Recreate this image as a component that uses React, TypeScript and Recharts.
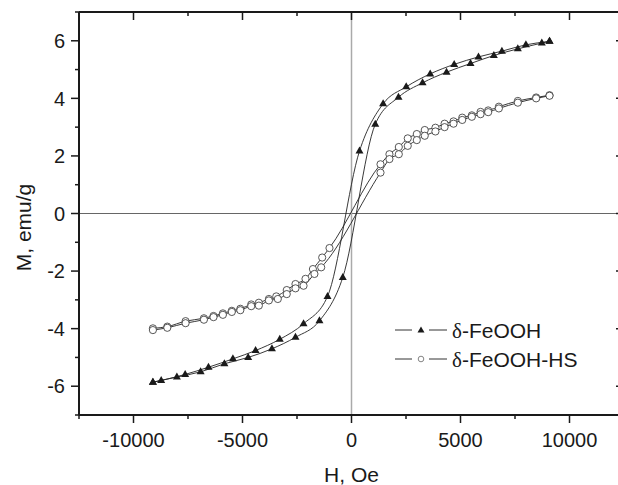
import React from 'react';
import { LineChart, Line, XAxis, YAxis, ReferenceLine, Legend, Label } from 'recharts';

// delta-FeOOH, branch coming down from +H (upper) and going back up (lower)
const feDownH = [-9110, -8730, -7630, -6560, -5440, -4400, -3290, -2200, -1100, 367, 1450, 2510, 3610, 4710, 5825, 6900, 8000, 9083];
const feDownM = [-5.86, -5.80, -5.59, -5.34, -5.05, -4.76, -4.37, -3.83, -2.88, 2.17, 3.81, 4.40, 4.85, 5.18, 5.44, 5.64, 5.86, 5.98];
const feUpH = [-9110, -8010, -6920, -5830, -4740, -3650, -2570, -1470, -400, 1090, 2155, 3260, 4360, 5460, 6530, 7630, 8730, 9083];
const feUpM = [-5.86, -5.68, -5.50, -5.22, -5.00, -4.70, -4.30, -3.73, -2.22, 3.10, 4.04, 4.54, 4.91, 5.21, 5.49, 5.72, 5.92, 5.98];

// delta-FeOOH-HS
const hsDownH = [-9110, -8450, -7610, -6770, -6330, -5900, -5490, -5100, -4600, -4250, -3790, -3450, -2970, -2570, -2110, -1770, -1345, -1010, 1330, 1740, 2170, 2580, 2995, 3360, 3850, 4270, 4680, 5080, 5520, 5920, 6270, 6760, 7630, 8470, 9083];
const hsDownM = [-3.99, -3.93, -3.74, -3.64, -3.56, -3.47, -3.38, -3.31, -3.16, -3.10, -2.97, -2.88, -2.66, -2.45, -2.27, -1.93, -1.53, -1.20, 1.71, 2.06, 2.31, 2.61, 2.76, 2.90, 2.98, 3.12, 3.20, 3.33, 3.41, 3.53, 3.58, 3.71, 3.91, 4.03, 4.11];
const hsUpH = [-9110, -8450, -7610, -6770, -6330, -5900, -5490, -5100, -4600, -4250, -3790, -3380, -2970, -2570, -2200, -1700, -1390, 1330, 1740, 2170, 2580, 2995, 3360, 3850, 4270, 4680, 5080, 5520, 5920, 6270, 6760, 7630, 8470, 9083];
const hsUpM = [-4.05, -3.97, -3.81, -3.69, -3.60, -3.52, -3.42, -3.36, -3.22, -3.20, -3.02, -2.97, -2.80, -2.60, -2.51, -2.10, -1.87, 1.42, 1.89, 2.06, 2.35, 2.55, 2.70, 2.85, 3.00, 3.12, 3.25, 3.36, 3.45, 3.52, 3.65, 3.85, 4.00, 4.09];

const hTicks = [-12500, -10000, -7500, -5000, -2500, 0, 2500, 5000, 7500, 10000, 12500];
const mTicks = [-7, -6, -5, -4, -3, -2, -1, 0, 1, 2, 3, 4, 5, 6, 7];
const hDomain = [-12500, 12500];
const mDomain = [-7, 7];

const seriesNames = ['δ-FeOOH', 'δ-FeOOH-HS'];

const zip = (hs: number[], ms: number[]) => hs.map((h, i) => ({ h, m: ms[i] }));

const FONT = '"Liberation Sans", Arial, sans-serif';
const INK = '#1a1a1a';

// chart box
const W = 640;
const H = 485;
const MARGIN = { top: 12, right: 16, left: 0, bottom: 30 };
const Y_AXIS_W = 79;
const X_AXIS_H = 40;
const plotW = W - MARGIN.left - MARGIN.right - Y_AXIS_W;
const plotH = H - MARGIN.top - MARGIN.bottom - X_AXIS_H;
// data units per pixel, used for the inward ticks on the top and right frame
const hPerPx = (hDomain[1] - hDomain[0]) / plotW;
const mPerPx = (mDomain[1] - mDomain[0]) / plotH;

const isMajorH = (v: number) => v % 5000 === 0;
const isMajorM = (v: number) => v % 2 === 0;

const Triangle = (props: any) => {
  const { cx, cy } = props;
  if (cx == null || cy == null) return null;
  return <polygon key={props.key ?? `${cx}-${cy}`} points={`${cx},${cy - 4.5} ${cx - 4},${cy + 2.5} ${cx + 4},${cy + 2.5}`} fill={INK} />;
};

const Ring = (props: any) => {
  const { cx, cy } = props;
  if (cx == null || cy == null) return null;
  return <circle key={props.key ?? `${cx}-${cy}`} cx={cx} cy={cy} r={3.6} fill="#fff" stroke="#444" strokeWidth={0.9} />;
};

// major/minor ticks for the labelled left and bottom axes
const makeTick = (side: string) => (props: any) => {
  const { x, y, payload } = props;
  const v = payload.value;
  const major = side === 'bottom' ? isMajorH(v) : isMajorM(v);
  const len = major ? 8 : 4;
  const label = v < 0 ? `-${Math.abs(v)}` : `${v}`;
  if (side === 'left') {
    return (
      <g>
        <line x1={x} x2={x - len} y1={y} y2={y} stroke={INK} strokeWidth={1.5} />
        {major && <text x={x - 14} y={y} dy="0.36em" textAnchor="end" fontSize={20} fontFamily={FONT} fill={INK}>{label}</text>}
      </g>
    );
  }
  return (
    <g>
      <line x1={x} x2={x} y1={y} y2={y + len} stroke={INK} strokeWidth={1.5} />
      {major && <text x={x} y={y + 32} textAnchor="middle" fontSize={20} fontFamily={FONT} fill={INK}>{label}</text>}
    </g>
  );
};

const renderLegend = () => (
  <svg width={230} height={60}>
    {seriesNames.map((name, i) => {
      const cy = 15 + i * 29;
      const dash = name.slice(1);
      return (
        <g key={name}>
          <line x1={5} x2={22} y1={cy} y2={cy} stroke="#333" strokeWidth={1} />
          <line x1={39} x2={57} y1={cy} y2={cy} stroke="#333" strokeWidth={1} />
          {i === 0 ? (
            <polygon points={`31,${cy - 3.5} 27.5,${cy + 2.5} 34.5,${cy + 2.5}`} fill={INK} />
          ) : (
            <circle cx={31} cy={cy} r={2.8} fill="#fff" stroke="#666" strokeWidth={0.8} />
          )}
          <text x={62} y={cy + 7.5} fontSize={21} fontFamily={FONT} fill={INK}>
            <tspan fontFamily='"Liberation Serif", "Times New Roman", serif'>δ</tspan>
            {dash}
          </text>
        </g>
      );
    })}
  </svg>
);

export default function App() {
  const topTicks = hTicks.filter((t) => t > hDomain[0] && t < hDomain[1]);
  const rightTicks = mTicks.filter((t) => t > mDomain[0] && t < mDomain[1]);
  return (
    <div style={{ position: 'absolute', left: 0, top: 0, width: 618, height: 485, overflow: 'hidden', background: '#fff' }}>
      <LineChart width={W} height={H} margin={MARGIN}>
        <XAxis
          type="number"
          dataKey="h"
          domain={hDomain}
          ticks={hTicks}
          interval={0}
          allowDataOverflow
          height={X_AXIS_H}
          tickSize={0}
          tickMargin={0}
          tickLine={false}
          axisLine={{ stroke: INK, strokeWidth: 2 }}
          tick={makeTick('bottom')}
        >
          <Label
            position="bottom"
            content={(p: any) => {
              const vb = p.viewBox || { x: 79, y: 415, width: 545, height: 40 };
              return (
                <text x={vb.x + vb.width / 2} y={vb.y + 67} textAnchor="middle" fontSize={21} fontFamily={FONT} fill={INK}>
                  H, Oe
                </text>
              );
            }}
          />
        </XAxis>
        <YAxis
          type="number"
          domain={mDomain}
          ticks={mTicks}
          interval={0}
          allowDataOverflow
          width={Y_AXIS_W}
          tickSize={0}
          tickMargin={0}
          tickLine={false}
          axisLine={{ stroke: INK, strokeWidth: 2 }}
          tick={makeTick('left')}
        >
          <Label
            position="left"
            content={(p: any) => {
              const vb = p.viewBox || { x: 0, y: 12, width: 79, height: 403 };
              const cx = vb.x + 31;
              const cy = vb.y + vb.height / 2 + 14;
              return (
                <text x={cx} y={cy} transform={`rotate(-90 ${cx} ${cy})`} textAnchor="middle" fontSize={21} fontFamily={FONT} fill={INK}>
                  M, emu/g
                </text>
              );
            }}
          />
        </YAxis>

        <ReferenceLine y={0} stroke="#666" strokeWidth={1} />
        <ReferenceLine x={0} stroke="#aaa" strokeWidth={1.5} />

        {/* top and right frame with inward ticks */}
        <ReferenceLine y={mDomain[1]} stroke={INK} strokeWidth={2} ifOverflow="visible" />
        <ReferenceLine x={hDomain[1]} stroke={INK} strokeWidth={2} ifOverflow="visible" />
        {topTicks.map((t) => (
          <ReferenceLine
            key={`tt${t}`}
            ifOverflow="visible"
            stroke={INK}
            strokeWidth={1.5}
            segment={[
              { x: t, y: mDomain[1] },
              { x: t, y: mDomain[1] - (isMajorH(t) ? 8 : 4) * mPerPx },
            ]}
          />
        ))}
        {rightTicks.map((t) => (
          <ReferenceLine
            key={`rt${t}`}
            ifOverflow="visible"
            stroke={INK}
            strokeWidth={1.5}
            segment={[
              { x: hDomain[1], y: t },
              { x: hDomain[1] - (isMajorM(t) ? 8 : 4) * hPerPx, y: t },
            ]}
          />
        ))}

        <Line data={zip(hsDownH, hsDownM)} dataKey="m" name={seriesNames[1]} type="monotone" stroke="#222" strokeWidth={0.9} dot={Ring} activeDot={false} isAnimationActive={false} />
        <Line data={zip(hsUpH, hsUpM)} dataKey="m" legendType="none" type="monotone" stroke="#222" strokeWidth={0.9} dot={Ring} activeDot={false} isAnimationActive={false} />
        <Line data={zip(feDownH, feDownM)} dataKey="m" name={seriesNames[0]} type="monotone" stroke="#222" strokeWidth={0.9} dot={Triangle} activeDot={false} isAnimationActive={false} />
        <Line data={zip(feUpH, feUpM)} dataKey="m" legendType="none" type="monotone" stroke="#222" strokeWidth={0.9} dot={Triangle} activeDot={false} isAnimationActive={false} />

        <Legend
          layout="vertical"
          align="center"
          verticalAlign="middle"
          content={renderLegend}
          wrapperStyle={{ position: 'absolute', left: 390, top: 315, width: 230, height: 60 }}
        />
      </LineChart>
    </div>
  );
}
